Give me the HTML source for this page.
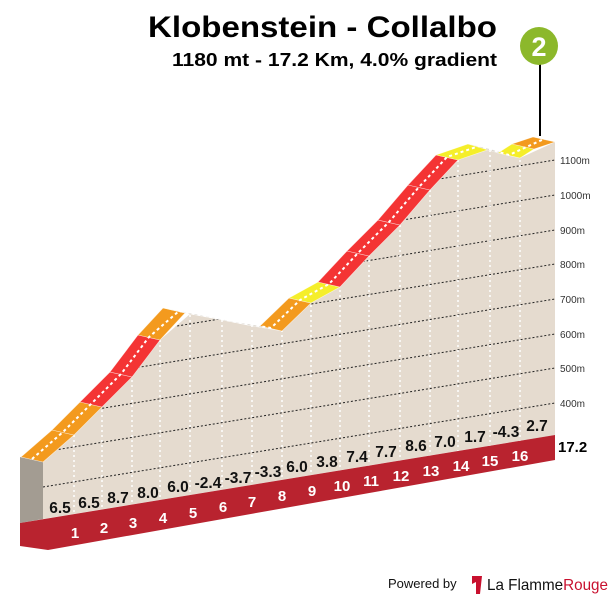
<!DOCTYPE html>
<html><head><meta charset="utf-8"><style>
html,body{margin:0;padding:0;background:#fff;}
svg{display:block;font-family:"Liberation Sans",sans-serif;}
</style></head><body>
<svg width="615" height="601" viewBox="0 0 615 601" xmlns="http://www.w3.org/2000/svg">
<defs>
<clipPath id="face"><polygon points="43,462 74,435 102,407 132,377 160,340 190,314 222,320 252,326 282,331 311,303 340,287 369,256 400,225 430,190 458,160 490,149 520,158 555,142 555,435 43,519"/></clipPath>
</defs>
<text x="497" y="37" text-anchor="end" font-size="30" font-weight="bold" fill="#000" textLength="349" lengthAdjust="spacingAndGlyphs">Klobenstein - Collalbo</text>
<text x="497" y="66" text-anchor="end" font-size="18" font-weight="bold" fill="#000" textLength="325" lengthAdjust="spacingAndGlyphs">1180 mt - 17.2 Km, 4.0% gradient</text>
<line x1="540" y1="62" x2="540" y2="136" stroke="#000" stroke-width="2"/>
<circle cx="539" cy="46" r="19" fill="#8cb82b"/>
<text x="539" y="56" text-anchor="middle" font-size="27" font-weight="bold" fill="#fff">2</text>
<polygon points="43,462 74,435 102,407 132,377 160,340 190,314 222,320 252,326 282,331 311,303 340,287 369,256 400,225 430,190 458,160 490,149 520,158 555,142 555,435 43,519" fill="#e5dbcf"/>
<g clip-path="url(#face)" stroke="#222" stroke-width="1" stroke-dasharray="2 2">
<line x1="43" y1="244" x2="555" y2="160"/>
<line x1="43" y1="279" x2="555" y2="195"/>
<line x1="43" y1="314" x2="555" y2="230"/>
<line x1="43" y1="348" x2="555" y2="264"/>
<line x1="43" y1="383" x2="555" y2="299"/>
<line x1="43" y1="418" x2="555" y2="334"/>
<line x1="43" y1="452" x2="555" y2="368"/>
<line x1="43" y1="487" x2="555" y2="403"/>
</g>
<g clip-path="url(#face)" stroke="#fff" stroke-width="1.5" stroke-dasharray="2 3">
<line x1="74" y1="300" x2="74" y2="530"/><line x1="102" y1="300" x2="102" y2="530"/><line x1="132" y1="300" x2="132" y2="530"/><line x1="160" y1="300" x2="160" y2="530"/><line x1="190" y1="300" x2="190" y2="530"/><line x1="222" y1="300" x2="222" y2="530"/><line x1="252" y1="300" x2="252" y2="530"/><line x1="282" y1="300" x2="282" y2="530"/><line x1="311" y1="200" x2="311" y2="530"/><line x1="340" y1="200" x2="340" y2="530"/><line x1="369" y1="200" x2="369" y2="530"/><line x1="400" y1="150" x2="400" y2="530"/><line x1="430" y1="150" x2="430" y2="530"/><line x1="458" y1="140" x2="458" y2="530"/><line x1="490" y1="140" x2="490" y2="530"/><line x1="520" y1="140" x2="520" y2="530"/>
</g>
<polygon points="20,457 43,462 43,519 20,523" fill="#a39c92"/>
<polygon points="20,523 555,435 555,460 48,550 20,546" fill="#b9232f"/>
<g stroke="#fff" stroke-width="0.6" stroke-opacity="0.6">
<polygon points="43,462 74,435 52,430 21,457" fill="#f39a1e"/>
<polygon points="74,435 102,407 80,402 52,430" fill="#f39a1e"/>
<polygon points="102,407 132,377 110,372 80,402" fill="#f43434"/>
<polygon points="132,377 160,340 138,335 110,372" fill="#f43434"/>
<polygon points="160,340 185,313 163,308 138,335" fill="#f39a1e"/>
<polygon points="185,313 190,314 168,309 163,308" fill="#f5ee2a"/>
<polygon points="190,314 222,320 200,315 168,309" fill="#d9d4cc"/>
<polygon points="222,320 252,326 230,321 200,315" fill="#d9d4cc"/>
<polygon points="252,326 282,331 260,326 230,321" fill="#d9d4cc"/>
<polygon points="282,331 311,303 289,298 260,326" fill="#f39a1e"/>
<polygon points="311,303 340,287 318,282 289,298" fill="#f5ee2a"/>
<polygon points="340,287 369,256 347,251 318,282" fill="#f43434"/>
<polygon points="369,256 400,225 378,220 347,251" fill="#f43434"/>
<polygon points="400,225 430,190 408,185 378,220" fill="#f43434"/>
<polygon points="430,190 458,160 436,155 408,185" fill="#f43434"/>
<polygon points="458,160 490,149 468,144 436,155" fill="#f5ee2a"/>
<polygon points="490,149 520,158 498,153 468,144" fill="#d9d4cc"/>
<polygon points="520,158 534,149 512,144 498,153" fill="#f5ee2a"/>
<polygon points="534,149 555,142 533,137 512,144" fill="#f39a1e"/>
</g>
<polyline points="32,459 63,432 91,404 121,374 149,337 179,311 211,317 241,323 271,328 300,300 329,284 358,253 389,222 419,187 447,157 479,146 509,155 544,139" fill="none" stroke="#fff" stroke-width="2" stroke-dasharray="3 3"/>
<g font-size="10" fill="#333">
<text x="560" y="164">1100m</text><text x="560" y="199">1000m</text><text x="560" y="234">900m</text><text x="560" y="268">800m</text><text x="560" y="303">700m</text><text x="560" y="338">600m</text><text x="560" y="372">500m</text><text x="560" y="407">400m</text>
</g>
<text x="558" y="452" font-size="15" font-weight="bold" fill="#000">17.2</text>
<g font-size="15.5" font-weight="bold" fill="#111" text-anchor="middle">
<text x="60" y="513">6.5</text><text x="89" y="508">6.5</text><text x="118" y="503">8.7</text><text x="148" y="498">8.0</text><text x="178" y="492">6.0</text><text x="208" y="488">-2.4</text><text x="238" y="483">-3.7</text><text x="268" y="477">-3.3</text><text x="297" y="472">6.0</text><text x="327" y="467">3.8</text><text x="357" y="462">7.4</text><text x="386" y="457">7.7</text><text x="416" y="451">8.6</text><text x="445" y="447">7.0</text><text x="475" y="442">1.7</text><text x="506" y="437">-4.3</text><text x="537" y="431">2.7</text>
</g>
<g font-size="15" font-weight="bold" fill="#fff" text-anchor="middle">
<text x="75" y="538">1</text><text x="104" y="533">2</text><text x="133" y="528">3</text><text x="163" y="523">4</text><text x="193" y="518">5</text><text x="223" y="512">6</text><text x="252" y="507">7</text><text x="282" y="501">8</text><text x="312" y="496">9</text><text x="342" y="491">10</text><text x="371" y="486">11</text><text x="401" y="481">12</text><text x="431" y="476">13</text><text x="461" y="471">14</text><text x="490" y="466">15</text><text x="520" y="461">16</text>
</g>
<text x="388" y="588" font-size="13" fill="#111">Powered by</text>
<path d="M472,576 L482,576 L480,594 L476,594 L476,582 L472,584 Z" fill="#c8102e"/>
<text x="487" y="590" font-size="16" fill="#111" textLength="121" lengthAdjust="spacingAndGlyphs">La Flamme<tspan fill="#c8102e">Rouge</tspan></text>
</svg>
</body></html>
